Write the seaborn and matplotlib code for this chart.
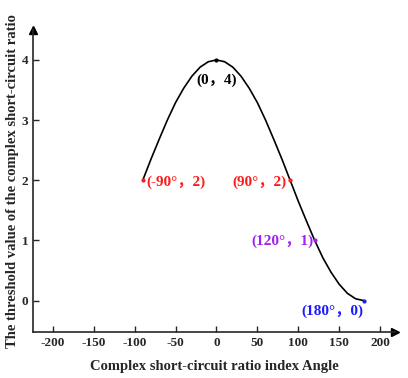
import matplotlib
matplotlib.use("Agg")
import matplotlib.pyplot as plt
import seaborn as sns
import pandas as pd

# curve (angle in degrees, threshold value)
angle = [-90, -80, -70, -60, -50, -40, -30, -20, -10, 0, 10, 20, 30, 40,
         50, 60, 70, 80, 90, 100, 110, 120, 130, 140, 150, 160, 170, 180]
threshold = [2.00, 2.35, 2.68, 3.00, 3.29, 3.53, 3.73, 3.88, 3.97, 4.00,
             3.97, 3.88, 3.73, 3.53, 3.29, 3.00, 2.68, 2.35, 2.00, 1.65,
             1.32, 1.00, 0.71, 0.47, 0.27, 0.12, 0.03, 0.00]

# marked points
pt_x = [0, -90, 90, 120, 180]
pt_y = [4, 2, 2, 1, 0]
pt_text = ["(0，4)", "(-90°，2)", "(90°，2)", "(120°，1)", "(180°，0)"]
pt_color = ["black", "#ff1a1a", "#ff1a1a", "#a020f0", "#1a1aff"]

df = pd.DataFrame({"angle": angle, "threshold": threshold})

sns.set_style("ticks")
plt.rcParams["font.family"] = ["Liberation Serif", "Noto Sans CJK SC"]
plt.rcParams["font.weight"] = "bold"
plt.rcParams["axes.unicode_minus"] = False

fig = plt.figure(figsize=(4.08, 3.78), dpi=100)
ax = fig.add_axes([0.081, 0.122, 0.887, 0.799])

sns.lineplot(data=df, x="angle", y="threshold", color="black", linewidth=1.2, ax=ax)

for x, y, c in zip(pt_x, pt_y, pt_color):
    ax.plot(x, y, "o", color=c, markersize=2, zorder=3)

fs = 11
ax.text(0, 3.66, pt_text[0], color=pt_color[0], ha="center", va="center", fontsize=fs, fontweight="bold")
ax.text(-86, 1.97, pt_text[1], color=pt_color[1], ha="left", va="center", fontsize=fs, fontweight="bold")
ax.text(86, 1.97, pt_text[2], color=pt_color[2], ha="right", va="center", fontsize=fs, fontweight="bold")
ax.text(118, 0.99, pt_text[3], color=pt_color[3], ha="right", va="center", fontsize=fs, fontweight="bold")
ax.text(179, -0.18, pt_text[4], color=pt_color[4], ha="right", va="center", fontsize=fs, fontweight="bold")

ax.set_xlim(-224, 218)
ax.set_ylim(-0.52, 4.5)
ax.set_xticks([-200, -150, -100, -50, 0, 50, 100, 150, 200])
ax.set_yticks([0, 1, 2, 3, 4])
ax.tick_params(direction="in", length=4, width=1, labelsize=9.5)
for lab in ax.get_xticklabels() + ax.get_yticklabels():
    lab.set_fontweight("bold")

sns.despine(ax=ax)
ax.spines["left"].set_linewidth(1.2)
ax.spines["bottom"].set_linewidth(1.2)

# arrow heads at the ends of the axes
ax.plot(1, 0, ">k", markersize=6, transform=ax.transAxes, clip_on=False)
ax.plot(0, 1, "^k", markersize=6, transform=ax.transAxes, clip_on=False)

ax.set_xlabel("Complex short-circuit ratio index Angle", fontsize=10.5, fontweight="bold", labelpad=8)
ax.set_ylabel("The threshold value of the complex short-circuit ratio", fontsize=10.5, fontweight="bold", labelpad=2)

fig.savefig("out.png", dpi=100)
